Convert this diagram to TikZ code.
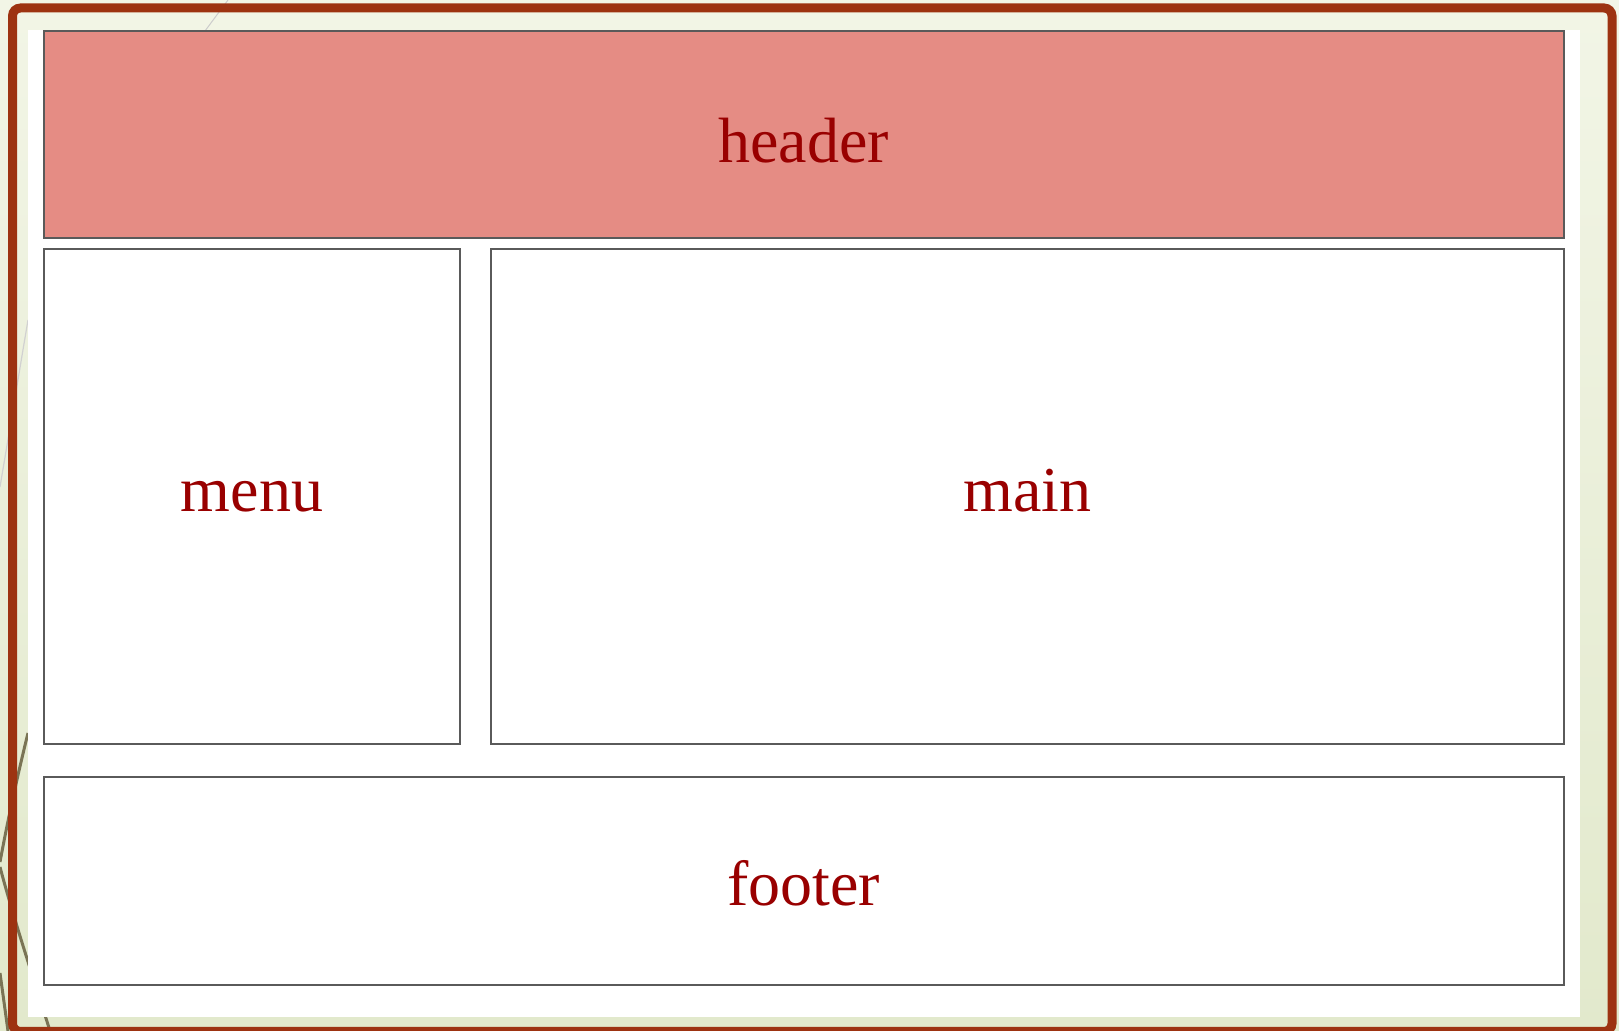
\documentclass[tikz,border=0pt]{standalone}
\usepackage{fontspec}
\setmainfont{Liberation Serif}
\usetikzlibrary{positioning}
\definecolor{framered}{RGB}{157,51,17}
\definecolor{bgtop}{RGB}{242,245,230}
\definecolor{bgbot}{RGB}{226,233,204}
\definecolor{olive}{RGB}{122,116,85}
\definecolor{headfill}{RGB}{229,140,132}
\definecolor{labelred}{RGB}{153,0,0}
\definecolor{boxline}{RGB}{90,90,90}
\tikzset{
  layoutbox/.style={rectangle, draw=boxline, line width=1pt, fill=white, inner sep=0pt,
    text=labelred, text depth=0pt, font=\fontsize{32}{38}\selectfont},
  deco/.style={olive, line width=1.5pt},
}

\begin{document}
\begin{tikzpicture}[x=0.5pt, y=-0.5pt]
  \useasboundingbox (0,0) rectangle (1619,1031);
  % Background
  \shade[top color=bgtop, bottom color=bgbot] (0,0) rectangle (1619,1031);
  \draw[black!20, line width=0.5pt] (228,0) -- (205,31);
  \draw[black!18, line width=0.6pt] (28,320) -- (0,487);
  \draw[deco] (28,733) .. controls (14,790) and (6,830) .. (0,862);
  \draw[deco] (0,867) .. controls (14,920) and (34,980) .. (50,1031);
  \draw[deco] (0,973) -- (8,1031);
  \draw[framered, line width=4.5pt, rounded corners=4pt] (12.5,8) rectangle (1612,1031.5);
  \fill[white] (28,30) rectangle (1580,1017);

  % Boxes
  \node[layoutbox, fill=headfill, minimum width=760pt, minimum height=103.5pt,
    text height=28.5pt] (header) at (803.75,134.5) {header};
  \node[layoutbox, minimum width=208.25pt, minimum height=247.5pt, text height=15.5pt,
    below right=4.5pt and 0pt of header.south west] (menu) {menu};
  \node[layoutbox, minimum width=536.5pt, minimum height=247.5pt, text height=15.5pt,
    right=14.5pt of menu] (main) {main};
  \node[layoutbox, minimum width=760pt, minimum height=104pt, text height=24.5pt,
    below right=15.5pt and 0pt of menu.south west] (footer) {footer};
\end{tikzpicture}
\end{document}
